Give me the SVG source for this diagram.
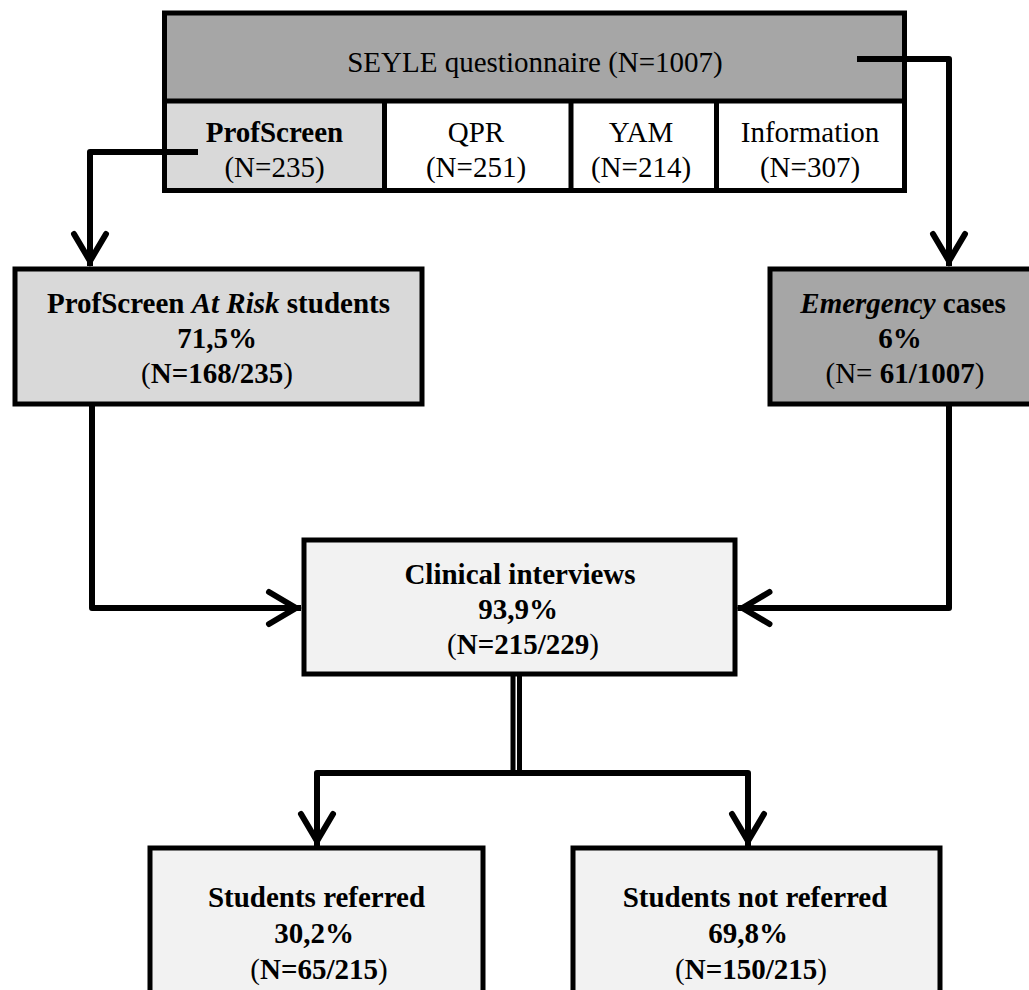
<svg xmlns="http://www.w3.org/2000/svg" width="1029" height="990" viewBox="0 0 1029 990">
<style>
.t{font-family:"Liberation Serif","Times New Roman","DejaVu Serif",serif;font-size:29px;text-anchor:middle;fill:#000}
.b{font-weight:bold}
.n{font-weight:normal}
.i{font-style:italic}
.box{stroke:#000;stroke-width:5}
.ln{fill:none;stroke:#000;stroke-width:5}
.con{fill:none;stroke:#000;stroke-width:6;stroke-linejoin:round}
.dbl{fill:none;stroke:#000;stroke-width:5}
</style>
<defs>
<marker id="arr" markerUnits="userSpaceOnUse" markerWidth="50" markerHeight="50" viewBox="-40 -25 50 50" refX="0" refY="0" orient="auto" overflow="visible">
<path d="M-32,-16 L-5,0 L-32,16" fill="none" stroke="#000" stroke-width="6" stroke-linecap="round" stroke-linejoin="miter"/>
</marker>
</defs>
<rect width="1029" height="990" fill="#fff"/>

<g id="seyle">
<rect x="164.5" y="13" width="740" height="88" fill="#a6a6a6"/>
<text class="t" x="535" y="72">SEYLE questionnaire (N=1007)</text>
</g>
<g id="profscreen">
<rect x="164.5" y="101" width="220" height="89.5" fill="#d9d9d9"/>
<text class="t b" x="274.5" y="142">ProfScreen</text>
<text class="t" x="274.5" y="177">(N=235)</text>
</g>
<g id="qpr">
<rect x="384.5" y="101" width="186.5" height="89.5" fill="#fff"/>
<text class="t" x="476" y="142">QPR</text>
<text class="t" x="476" y="177">(N=251)</text>
</g>
<g id="yam">
<rect x="571" y="101" width="145.5" height="89.5" fill="#fff"/>
<text class="t" x="641" y="142">YAM</text>
<text class="t" x="641" y="177">(N=214)</text>
</g>
<g id="information">
<rect x="716.5" y="101" width="188" height="89.5" fill="#fff"/>
<text class="t" x="810" y="142">Information</text>
<text class="t" x="810" y="177">(N=307)</text>
</g>
<g id="seyle-borders">
<rect x="164.5" y="13" width="740" height="177.5" class="ln"/>
<path d="M164.5,101 H904.5 M384.5,101 V190.5 M571,101 V190.5 M716.5,101 V190.5" class="ln"/>
</g>

<g id="atrisk">
<rect x="15" y="269" width="407" height="135" fill="#d9d9d9" class="box"/>
<text class="t b" x="218.5" y="313">ProfScreen <tspan class="i">At Risk</tspan> students</text>
<text class="t b" x="217" y="348">71,5%</text>
<text class="t b" x="217" y="383"><tspan class="n">(</tspan>N=168/235<tspan class="n">)</tspan></text>
</g>

<g id="emergency">
<rect x="770" y="269" width="290" height="135" fill="#a6a6a6" class="box"/>
<text class="t b" x="903" y="313"><tspan class="i">Emergency</tspan> cases</text>
<text class="t b" x="900" y="348">6%</text>
<text class="t b" x="905" y="383"><tspan class="n">(N=</tspan> 61/1007<tspan class="n">)</tspan></text>
</g>

<g id="clinical">
<rect x="304" y="540" width="431" height="134" fill="#f2f2f2" class="box"/>
<text class="t b" x="520" y="584">Clinical interviews</text>
<text class="t b" x="518" y="619">93,9%</text>
<text class="t b" x="523" y="654"><tspan class="n">(</tspan>N=215/229<tspan class="n">)</tspan></text>
</g>

<g id="referred">
<rect x="150" y="848" width="333" height="170" fill="#f2f2f2" class="box"/>
<text class="t b" x="316.5" y="907">Students referred</text>
<text class="t b" x="314" y="943">30,2%</text>
<text class="t b" x="319" y="979"><tspan class="n">(</tspan>N=65/215<tspan class="n">)</tspan></text>
</g>

<g id="not-referred">
<rect x="573" y="848" width="367" height="170" fill="#f2f2f2" class="box"/>
<text class="t b" x="755" y="907">Students not referred</text>
<text class="t b" x="748" y="943">69,8%</text>
<text class="t b" x="751" y="979"><tspan class="n">(</tspan>N=150/215<tspan class="n">)</tspan></text>
</g>

<g id="connectors">
<path class="con" d="M198,152 H90 V266" marker-end="url(#arr)"/>
<path class="con" d="M857,59 H949 V266" marker-end="url(#arr)"/>
<path class="con" d="M92,404 V608 H301" marker-end="url(#arr)"/>
<path class="con" d="M949,404 V608 H737.5" marker-end="url(#arr)"/>
<path class="dbl" d="M513,676 V773 M519.5,676 V773"/>
<path class="con" d="M516,773 H317 V846" marker-end="url(#arr)"/>
<path class="con" d="M516,773 H748 V846" marker-end="url(#arr)"/>
</g>
</svg>
